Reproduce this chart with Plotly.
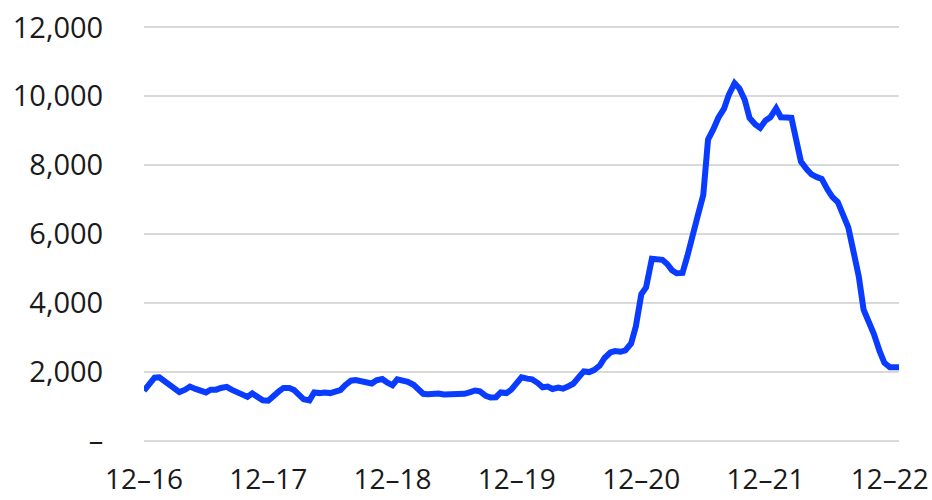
import pandas as pd
import plotly.graph_objects as go

# Semi-monthly observations (1st and 15th of each month), Dec 2016 - Dec 2022, plus last reading
dates = list(pd.date_range("2016-12-01", periods=146, freq="SMS").strftime("%Y-%m-%d")) + ["2022-12-28"]

values = [
    1450, 1630, 1830, 1840, 1720, 1600, 1480, 1410, 1480, 1570,
    1500, 1460, 1400, 1480, 1480, 1530, 1560, 1480, 1400, 1330,
    1270, 1370, 1260, 1170, 1160, 1300, 1430, 1530, 1530, 1470,
    1330, 1200, 1170, 1400, 1380, 1400, 1380, 1440, 1470, 1610,
    1740, 1760, 1730, 1670, 1660, 1750, 1790, 1690, 1610, 1780,
    1750, 1710, 1620, 1500, 1360, 1350, 1370, 1370, 1340, 1340,
    1340, 1350, 1360, 1400, 1455, 1430, 1300, 1250, 1260, 1400,
    1380, 1480, 1660, 1840, 1800, 1780, 1670, 1550, 1570, 1500,
    1540, 1510, 1580, 1650, 1850, 2010, 1990, 2050, 2180, 2400,
    2560, 2600, 2580, 2620, 2820, 3320, 4250, 4450, 5280, 5260,
    5250, 5130, 4950, 4860, 4870, 5350, 6050, 6500, 7130, 8740,
    9050, 9370, 9640, 10040, 10380, 10230, 9890, 9370, 9180, 9080,
    9300, 9390, 9650, 9390, 9380, 9370, 8730, 8100, 7880, 7730,
    7650, 7600, 7290, 7080, 6930, 6610, 6190, 5550, 4760, 3800,
    3440, 3100, 2600, 2260, 2130, 2130, 2130,
]

x_tickvals = ["2016-12-01", "2017-12-01", "2018-12-01", "2019-12-01",
              "2020-12-01", "2021-12-01", "2022-12-01"]
x_ticktext = ["12–16", "12–17", "12–18", "12–19", "12–20", "12–21", "12–22"]

y_tickvals = [0, 2000, 4000, 6000, 8000, 10000, 12000]
y_ticktext = ["–", "2,000", "4,000", "6,000", "8,000", "10,000", "12,000"]

fig = go.Figure()
fig.add_trace(go.Scatter(
    x=dates, y=values, mode="lines",
    line=dict(color="#0a3cff", width=6),
    hoverinfo="skip", showlegend=False,
))

yfont = dict(family="Open Sans", size=29, color="#1a1a1a")
xfont = dict(family="Open Sans", size=28, color="#1a1a1a")

fig.update_layout(
    width=932, height=500,
    margin=dict(l=144, r=33, t=26, b=58),
    paper_bgcolor="white", plot_bgcolor="white",
    font=yfont,
    xaxis=dict(
        type="date",
        range=["2016-12-01", "2022-12-28"],
        tickvals=x_tickvals, ticktext=x_ticktext,
        showgrid=False, zeroline=False, showline=False,
        ticks="outside", ticklen=12, tickcolor="rgba(0,0,0,0)",
        tickfont=xfont, automargin=False,
    ),
    yaxis=dict(
        range=[-40, 12040],
        tickvals=y_tickvals, ticktext=y_ticktext,
        showgrid=True, gridcolor="#d9d9d9", gridwidth=2,
        zeroline=False, showline=False,
        ticks="outside", ticklen=34, tickcolor="rgba(0,0,0,0)",
        tickfont=yfont, automargin=False,
    ),
)

fig.write_html("out.html", config={"displayModeBar": False},
               post_script="document.body.style.margin='0';")
